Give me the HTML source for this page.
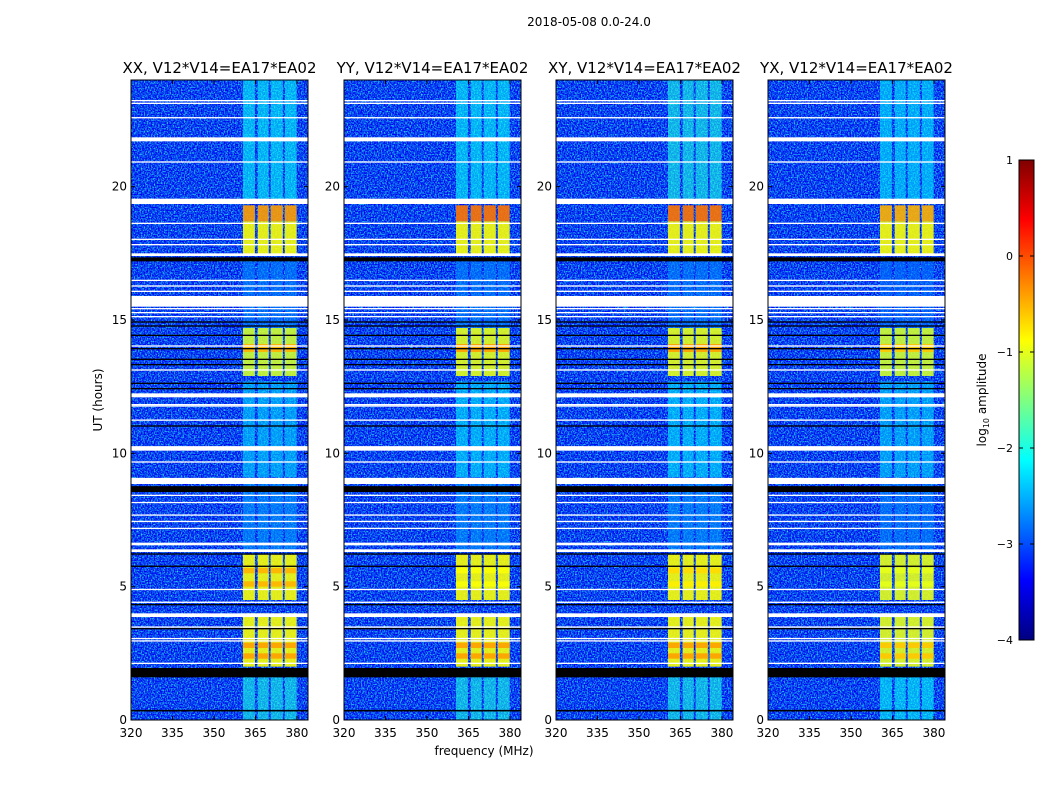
<!DOCTYPE html>
<html><head><meta charset="utf-8">
<style>
body{margin:0;background:#fff;}
svg text{font-family:"DejaVu Sans","Liberation Sans",sans-serif;fill:#000;}
</style></head>
<body>
<svg id="fig" width="1050" height="800" viewBox="0 0 1050 800" xmlns="http://www.w3.org/2000/svg">
<defs>
<filter id="noise" x="0" y="0" width="100%" height="100%" color-interpolation-filters="sRGB">
<feTurbulence type="fractalNoise" baseFrequency="0.7" numOctaves="2" seed="3" result="t"/>
<feColorMatrix in="t" type="matrix" values="0.6 0 0 0 -0.28  1.9 0 0 0 -0.68  0 0 0 0 0.94  0 0 0 0 1"/>
</filter>
<linearGradient id="jet" x1="0" y1="1" x2="0" y2="0"></linearGradient>
</defs>
<text x="589" y="26" font-size="12" text-anchor="middle">2018-05-08 0.0-24.0</text>
<g id="panels"></g>
<g>
<rect x="1019" y="160" width="15" height="480" fill="url(#jet)" stroke="#000" stroke-width="1"/>
</g>
<g id="cbticks"></g>
<text transform="translate(986,400) rotate(-90)" font-size="12" text-anchor="middle">log<tspan font-size="8" dy="3">10</tspan><tspan dy="-3"> amplitude</tspan></text>
<text x="484" y="755" font-size="12" text-anchor="middle">frequency (MHz)</text>
<text transform="translate(102,400) rotate(-90)" font-size="12" text-anchor="middle">UT (hours)</text>
</svg>
<script>
const panelTitles = ["XX, V12*V14=EA17*EA02","YY, V12*V14=EA17*EA02","XY, V12*V14=EA17*EA02","YX, V12*V14=EA17*EA02"];
const xTicks = [320,335,350,365,380];
const yTicks = [0,5,10,15,20];
const cbTicks = [1,0,-1,-2,-3,-4];
const bands = [[360.5,364.8],[365.8,369.8],[370.5,374.9],[375.6,379.9]];
const blockStart = [19.4,18.7,17.4,14.6,12.9,13.8,9.1,6.3,4.5,5.5,5.0,2.0,2.7,2.3,0];
const blockEnd   = [24,19.3,18.7,17.2,14.7,14.1,12.7,8.9,6.2,5.7,5.2,4.0,2.9,2.5,1.65];
const levelsXX = [-2.1,-0.4,-0.9,-2.7,-1.1,-0.5,-2.3,-2.6,-0.9,-0.5,-0.5,-0.9,-0.4,-0.4,-2.0];
const levelsYY = [-2.1,-0.2,-0.9,-2.7,-1.0,-0.4,-2.2,-2.6,-0.9,-0.9,-0.9,-0.9,-0.4,-0.4,-2.0];
const levelsXY = [-2.0,-0.2,-0.9,-2.7,-1.0,-0.4,-2.2,-2.6,-0.9,-0.7,-0.8,-0.9,-0.4,-0.4,-2.0];
const levelsYX = [-2.2,-0.5,-0.9,-2.8,-1.1,-0.6,-2.3,-2.7,-1.0,-1.0,-1.0,-1.0,-0.6,-0.6,-2.1];
const panelLevels = [levelsXX,levelsYY,levelsXY,levelsYX];
const whiteStart = [23.2,23.1,22.56,21.75,21.7,20.9,19.35,18.6,18.0,17.8,17.4,16.46,16.25,16.05,15.5,15.4,15.25,15.1,14.0,13.1,12.1,11.8,11.75,11.22,10.1,9.65,8.85,8.4,8.13,7.66,7.42,7.16,6.55,6.3,4.87,4.39,3.86,3.46,3.03,2.94,2.1];
const whiteEnd   = [23.25,23.15,22.61,21.85,21.75,20.95,19.55,18.65,18.05,17.85,17.5,16.51,16.3,16.1,15.9,15.45,15.3,15.15,14.05,13.15,12.25,11.85,11.8,11.27,10.27,9.7,9.08,8.45,8.18,7.71,7.47,7.21,6.65,6.4,4.92,4.44,4.0,3.51,3.08,2.99,2.15];
const blackStart = [17.2,14.9,14.75,14.4,13.9,13.5,13.3,12.6,12.4,11.0,8.55,6.2,5.74,4.3,3.4,1.6,0.32];
const blackEnd   = [17.35,14.95,14.8,14.45,13.95,13.55,13.35,12.65,12.45,11.05,8.77,6.25,5.79,4.35,3.45,1.95,0.38];
const panelX = [131,344,556,768];
const PW = 177, PT = 80, PB = 720;
const NS='http://www.w3.org/2000/svg';
function mk(tag, attrs, parent){const e=document.createElementNS(NS,tag);for(const k in attrs)e.setAttribute(k,attrs[k]);parent.appendChild(e);return e;}
function jetT(t){const c=x=>Math.round(255*Math.max(0,Math.min(1,1.5-Math.abs(4*t-x))));return `rgb(${c(3)},${c(2)},${c(1)})`;}
function jet(v){return jetT(Math.max(0,Math.min(1,(v+4)/5)));}
const grad=document.getElementById('jet');
for(let i=0;i<=40;i++){mk('stop',{offset:i/40,'stop-color':jetT(i/40)},grad);}
const root=document.getElementById('panels');
panelX.forEach((x0,p)=>{
  const xs=f=>x0+(f-320)*PW/64;
  const ys=h=>PB-(h/24)*(PB-PT);
  const g=mk('g',{},root);
  
  
  const bg=mk('rect',{x:x0,y:PT,width:PW,height:PB-PT,fill:'#1040e8',filter:'url(#noise)'},g);
  
  
  const lv=panelLevels[p];
  blockStart.forEach((s,i)=>{
    bands.forEach((b,j)=>{
      const r=mk('rect',{x:xs(b[0]),y:ys(blockEnd[i]),width:xs(b[1])-xs(b[0]),height:ys(s)-ys(blockEnd[i]),fill:jet(lv[i]),opacity:lv[i]>-1.5?0.9:0.6},g);
      
      
    });
  });
  whiteStart.forEach((s,i)=>{
    const r=mk('rect',{x:x0,y:ys(whiteEnd[i]),width:PW,height:Math.max(1.3,ys(s)-ys(whiteEnd[i])),fill:'#fff'},g);
    
    
  });
  blackStart.forEach((s,i)=>{
    const r=mk('rect',{x:x0,y:ys(blackEnd[i]),width:PW,height:Math.max(1.3,ys(s)-ys(blackEnd[i])),fill:'#000'},g);
    
    
  });
  mk('rect',{x:x0,y:PT,width:PW,height:PB-PT,fill:'none',stroke:'#000','stroke-width':1},g);
  const t=mk('text',{x:x0+PW/2,y:73,'font-size':15,'text-anchor':'middle'},g);t.textContent=panelTitles[p];
  
  
  xTicks.forEach(v=>{
    mk('line',{x1:xs(v),x2:xs(v),y1:PB,y2:PB-4,stroke:'#000'},g);
    mk('line',{x1:xs(v),x2:xs(v),y1:PT,y2:PT+4,stroke:'#000'},g);
    const l=mk('text',{x:xs(v),y:737,'font-size':12,'text-anchor':'middle'},g);l.textContent=v;
    
    
  });
  yTicks.forEach(v=>{
    mk('line',{x1:x0,x2:x0+4,y1:ys(v),y2:ys(v),stroke:'#000'},g);
    mk('line',{x1:x0+PW,x2:x0+PW-4,y1:ys(v),y2:ys(v),stroke:'#000'},g);
    const l=mk('text',{x:x0-4,y:ys(v)+4,'font-size':12,'text-anchor':'end'},g);l.textContent=v;
    
    
  });
});
const cb=document.getElementById('cbticks');
cbTicks.forEach(v=>{
  const y=640-(v+4)/5*480;
  mk('line',{x1:1019,x2:1023,y1:y,y2:y,stroke:'#000'},cb);
  mk('line',{x1:1030,x2:1034,y1:y,y2:y,stroke:'#000'},cb);
  const l=mk('text',{x:1013,y:y+4,'font-size':11,'text-anchor':'end'},cb);l.textContent=v<0?'\u2212'+(-v):String(v);
  
  
});
</script>
</body></html>
